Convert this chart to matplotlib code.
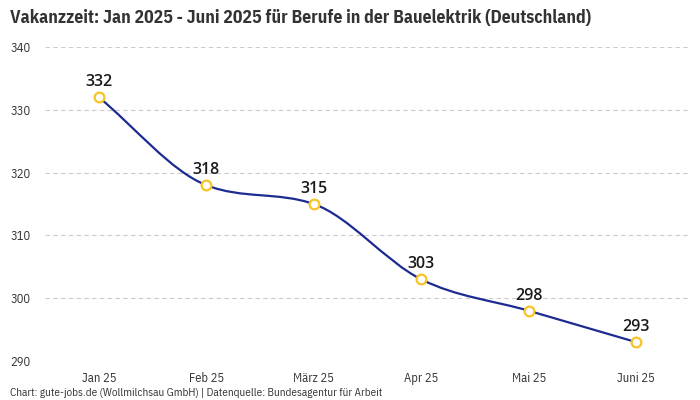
import numpy as np
import matplotlib
matplotlib.use('Agg')
import matplotlib.pyplot as plt
from matplotlib.path import Path
from matplotlib.patches import PathPatch
from matplotlib import font_manager

months = ['Jan 25', 'Feb 25', 'März 25', 'Apr 25', 'Mai 25', 'Juni 25']
vakanz = [332, 318, 315, 303, 298, 293]
yticks = [290, 300, 310, 320, 330, 340]

names = {f.name for f in font_manager.fontManager.ttflist}
fam = 'DejaVu Sans'
for cand in ['IBM Plex Sans Condensed', 'Roboto Condensed', 'Fira Sans Condensed', 'Barlow Semi Condensed', 'Asap Condensed']:
    if cand in names:
        fam = cand
        break
plt.rcParams['font.family'] = [fam, 'DejaVu Sans']
label_fam = ['Open Sans', 'DejaVu Sans']

fig = plt.figure(figsize=(7, 4), dpi=100)
ax = fig.add_axes([45/700, 39/400, 645/700, 314/400])

x = np.arange(len(months), dtype=float)
y = np.array(vakanz, dtype=float)

# monotone cubic tangents (Fritsch-Carlson, as in Chart.js)
d = np.diff(y) / np.diff(x)
m = np.zeros_like(y)
m[0], m[-1] = d[0], d[-1]
for i in range(1, len(y) - 1):
    m[i] = 0 if d[i-1] * d[i] <= 0 else (d[i-1] + d[i]) / 2
for i in range(len(d)):
    if d[i] == 0:
        m[i] = m[i+1] = 0
        continue
    a, b = m[i] / d[i], m[i+1] / d[i]
    s = a * a + b * b
    if s > 9:
        t = 3 / np.sqrt(s)
        m[i], m[i+1] = a * t * d[i], b * t * d[i]

verts = [(x[0], y[0])]
codes = [Path.MOVETO]
for i in range(len(x) - 1):
    h = (x[i+1] - x[i]) / 3
    verts += [(x[i] + h, y[i] + m[i] * h), (x[i+1] - h, y[i+1] - m[i+1] * h), (x[i+1], y[i+1])]
    codes += [Path.CURVE4] * 3
ax.add_patch(PathPatch(Path(verts, codes), fill=False, edgecolor='#1c2b8f', lw=1.6, zorder=3))

ax.plot(x, y, 'o', ms=7, mfc='white', mec='#f7c325', mew=1.6, zorder=4)
for xi, yi in zip(x, vakanz):
    ax.annotate(str(yi), (xi, yi), xytext=(0, 5), textcoords='offset points',
                ha='center', va='bottom', fontsize=11.5, color='#1a1a1a',
                family=label_fam, fontweight='semibold')

ax.set_xlim(-0.5, len(months) - 0.5)
ax.set_ylim(290, 340)
ax.set_yticks(yticks)
ax.set_xticks(x)
ax.set_xticklabels(months)
ax.grid(axis='y', color='#cccccc', ls=(0, (4, 3)), lw=0.8)
ax.set_axisbelow(True)
for s in ax.spines.values():
    s.set_visible(False)
ax.tick_params(length=0, labelsize=9, colors='#333333')
ax.tick_params(axis='x', pad=8)
for lab in ax.get_yticklabels():
    lab.set_ha('left')
ax.tick_params(axis='y', pad=25)

fig.text(10/700, 1 - 9/400, 'Vakanzzeit: Jan 2025 - Juni 2025 für Berufe in der Bauelektrik (Deutschland)',
         ha='left', va='top', fontsize=12.8, fontweight='bold', color='#333333')
fig.text(10/700, 1 - 393/400, 'Chart: gute-jobs.de (Wollmilchsau GmbH) | Datenquelle: Bundesagentur für Arbeit',
         ha='left', va='center', fontsize=8, color='#333333')

fig.savefig('out.png', dpi=100)
